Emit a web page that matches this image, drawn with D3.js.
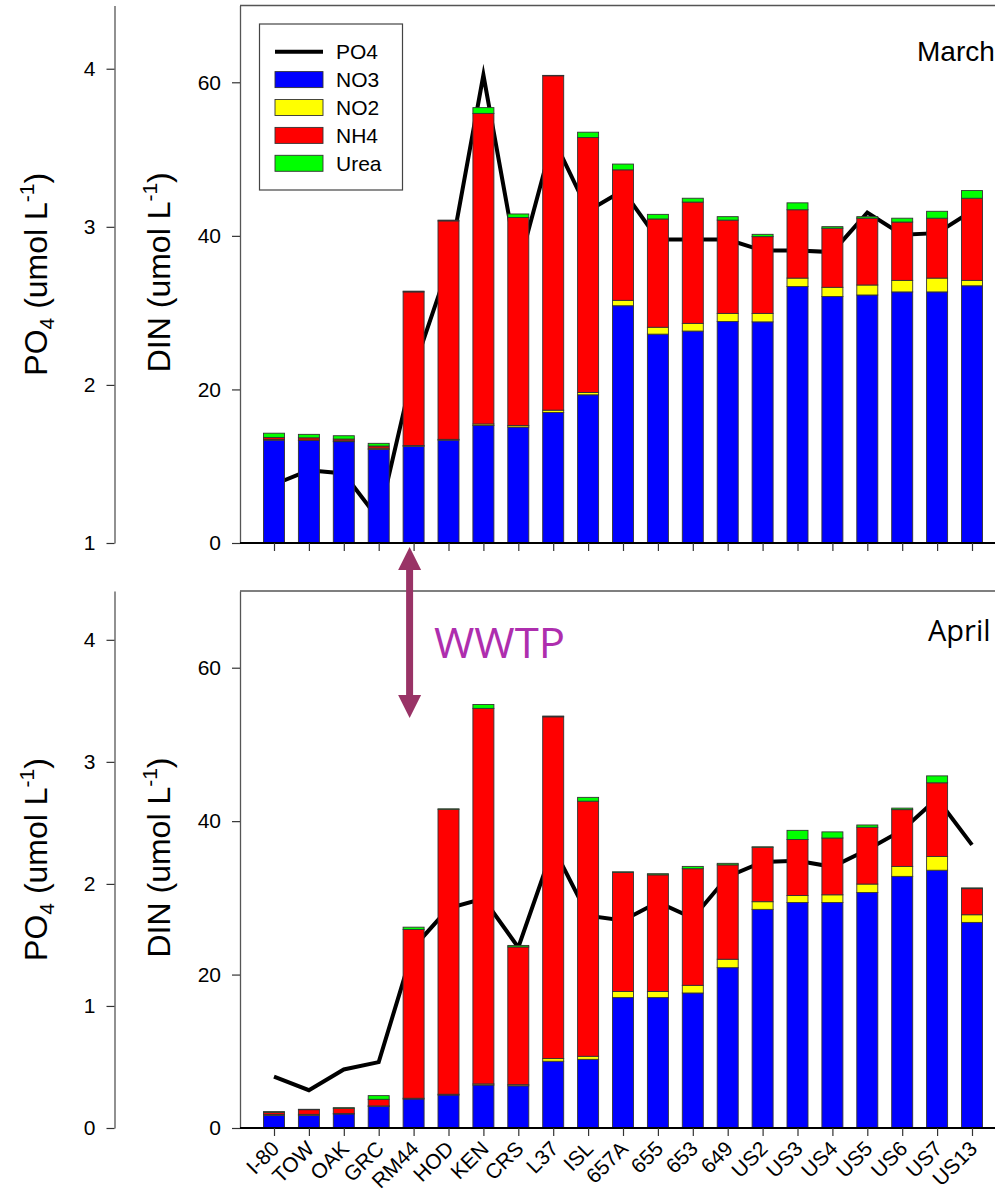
<!DOCTYPE html>
<html>
<head>
<meta charset="utf-8">
<script src="https://cdn.jsdelivr.net/npm/d3@7"></script>
<style>
  html, body { margin: 0; padding: 0; background: #fff; }
  svg { display: block; font-family: "Liberation Sans", Arial, sans-serif; }
</style>
</head>
<body>
<svg id="chart" width="995" height="1191"></svg>
<script>
// ---------------- DATA ----------------
const categories = ["I-80","TOW","OAK","GRC","RM44","HOD","KEN","CRS","L37","ISL","657A","655","653","649","US2","US3","US4","US5","US6","US7","US13"];

// March (umol L-1)
const marchNO3  = [13.4, 13.35, 13.2, 12.2, 12.6, 13.4, 15.3, 15.1, 17.0, 19.3, 30.9, 27.2, 27.6, 28.85, 28.8, 33.4, 32.1, 32.3, 32.7, 32.7, 33.5];
const marchNO2  = [0.1, 0.05, 0.1, 0.15, 0.1, 0.1, 0.2, 0.2, 0.3, 0.3, 0.7, 0.9, 1.0, 1.05, 1.1, 1.1, 1.2, 1.3, 1.5, 1.8, 0.7];
const marchNH4  = [0.25, 0.3, 0.24, 0.28, 20.0, 28.45, 40.45, 27.1, 43.55, 33.2, 17.0, 14.1, 15.8, 12.15, 10.0, 8.9, 7.7, 8.7, 7.6, 7.8, 10.7];
const marchUrea = [0.55, 0.45, 0.43, 0.35, 0.1, 0.1, 0.75, 0.45, 0.05, 0.7, 0.75, 0.6, 0.5, 0.45, 0.3, 0.9, 0.2, 0.2, 0.5, 0.9, 1.0];
const marchPO4  = [1.37, 1.46, 1.44, 1.15, 2.1, 2.75, 3.96, 2.74, 3.56, 3.1, 3.23, 2.92, 2.92, 2.92, 2.85, 2.85, 2.84, 3.09, 2.95, 2.96, 3.1];

// April (umol L-1)
const aprilNO3  = [1.65, 1.65, 1.83, 2.83, 3.78, 4.3, 5.6, 5.5, 8.7, 8.95, 17.0, 17.0, 17.6, 20.9, 28.5, 29.4, 29.4, 30.7, 32.8, 33.6, 26.8];
const aprilNO2  = [0.13, 0.13, 0.07, 0.05, 0.1, 0.1, 0.15, 0.15, 0.35, 0.4, 0.8, 0.8, 1.0, 1.1, 1.0, 0.9, 1.0, 1.1, 1.3, 1.8, 1.0];
const aprilNH4  = [0.26, 0.61, 0.67, 0.86, 22.0, 37.15, 48.95, 17.95, 44.55, 33.25, 15.5, 15.2, 15.2, 12.3, 7.1, 7.3, 7.4, 7.4, 7.4, 9.6, 3.4];
const aprilUrea = [0.1, 0.05, 0.08, 0.48, 0.3, 0.05, 0.5, 0.2, 0.1, 0.5, 0.1, 0.15, 0.3, 0.2, 0.05, 1.2, 0.8, 0.3, 0.2, 0.9, 0.1];
const aprilPO4  = [0.42, 0.31, 0.48, 0.54, 1.48, 1.8, 1.88, 1.48, 2.3, 1.74, 1.7, 1.85, 1.72, 2.06, 2.18, 2.19, 2.14, 2.28, 2.44, 2.7, 2.32];

const dinTicks = [0, 20, 40, 60];
const po4TicksMarch = [1, 2, 3, 4];
const po4TicksApril = [0, 1, 2, 3, 4];
const seriesKeys = ["NO3", "NO2", "NH4", "Urea"];
const legendLabels = ["PO4", "NO3", "NO2", "NH4", "Urea"];
const monthLabels = ["March", "April"];

// ---------------- STYLE ----------------
const colors = { NO3: "#0000FF", NO2: "#FFFF00", NH4: "#FF0000", Urea: "#00FF00" };
const svg = d3.select("#chart");
const font = '"Liberation Sans", Arial, sans-serif';

const x = d3.scalePoint().domain(categories).range([274, 972]);
const barW = 21;
const frameL = 240, frameR = 1010, po4AxisX = 114.5;

const panels = [
  { month: monthLabels[0], top: 5.5, bottom: 543, po4Domain: [1, 4.4], po4Ticks: po4TicksMarch,
    NO3: marchNO3, NO2: marchNO2, NH4: marchNH4, Urea: marchUrea, PO4: marchPO4, legend: true, xlabels: false },
  { month: monthLabels[1], top: 591, bottom: 1128, po4Domain: [0, 4.4], po4Ticks: po4TicksApril,
    NO3: aprilNO3, NO2: aprilNO2, NH4: aprilNH4, Urea: aprilUrea, PO4: aprilPO4, legend: false, xlabels: true }
];

function axisTitle(g, cx, cy, main, sub) {
  const t = g.append("text")
    .attr("transform", `translate(${cx},${cy}) rotate(-90)`)
    .attr("text-anchor", "middle")
    .attr("font-family", font)
    .attr("font-size", 32)
    .attr("fill", "#000");
  t.append("tspan").text(main);
  if (sub) t.append("tspan").attr("font-size", 21).attr("dy", 7).text(sub);
  t.append("tspan").attr("dy", sub ? -7 : 0).text(" (umol L");
  t.append("tspan").attr("font-size", 21).attr("dy", -13).text("-1");
  t.append("tspan").attr("dy", 13).text(")");
}

panels.forEach(p => {
  const g = svg.append("g");
  const yDIN = d3.scaleLinear().domain([0, 70]).range([p.bottom, p.top]);
  const yPO4 = d3.scaleLinear().domain(p.po4Domain).range([p.bottom, p.top]);

  const rows = categories.map((c, i) => ({ cat: c, NO3: p.NO3[i], NO2: p.NO2[i], NH4: p.NH4[i], Urea: p.Urea[i], PO4: p.PO4[i] }));

  // frame (top and right)
  g.append("path")
    .attr("d", `M${frameL},${p.top}H${frameR}V${p.bottom}`)
    .attr("fill", "none").attr("stroke", "#555").attr("stroke-width", 1.3);

  // PO4 line (drawn behind bars)
  const line = d3.line().x(d => x(d.cat)).y(d => yPO4(d.PO4));
  g.append("path").datum(rows)
    .attr("d", line)
    .attr("fill", "none").attr("stroke", "#000").attr("stroke-width", 4)
    .attr("stroke-linejoin", "miter").attr("stroke-miterlimit", 10);

  // stacked bars
  const stacked = d3.stack().keys(seriesKeys)(rows);
  stacked.forEach(layer => {
    g.append("g").selectAll("rect").data(layer).join("rect")
      .attr("x", d => x(d.data.cat) - barW / 2)
      .attr("width", barW)
      .attr("y", d => yDIN(d[1]))
      .attr("height", d => Math.max(0, yDIN(d[0]) - yDIN(d[1])))
      .attr("fill", colors[layer.key])
      .attr("stroke", "#333").attr("stroke-width", 0.9);
  });

  // DIN axis (frame left)
  const dinAxis = g.append("g").attr("transform", `translate(${frameL},0)`)
    .call(d3.axisLeft(yDIN).tickValues(dinTicks).tickSize(8).tickSizeOuter(0).tickPadding(11));
  dinAxis.select(".domain").attr("stroke", "#555").attr("stroke-width", 1.3);
  dinAxis.selectAll(".tick line").attr("stroke", "#333").attr("stroke-width", 1.2);
  dinAxis.selectAll("text").attr("font-family", font).attr("font-size", 21).attr("fill", "#000");

  // PO4 axis
  const po4Axis = g.append("g").attr("transform", `translate(${po4AxisX},0)`)
    .call(d3.axisLeft(yPO4).tickValues(p.po4Ticks).tickFormat(d3.format("d")).tickSize(8).tickSizeOuter(0).tickPadding(11));
  po4Axis.select(".domain").attr("stroke", "#555").attr("stroke-width", 1.3);
  po4Axis.selectAll(".tick line").attr("stroke", "#333").attr("stroke-width", 1.2);
  po4Axis.selectAll("text").attr("font-family", font).attr("font-size", 21).attr("fill", "#000");

  // x axis
  g.append("line").attr("x1", frameL).attr("x2", frameR).attr("y1", p.bottom).attr("y2", p.bottom)
    .attr("stroke", "#000").attr("stroke-width", 2);
  const xAxis = g.append("g").attr("transform", `translate(0,${p.bottom})`)
    .call(d3.axisBottom(x).tickSize(8).tickSizeOuter(0).tickPadding(4));
  xAxis.select(".domain").remove();
  xAxis.selectAll(".tick line").attr("stroke", "#333").attr("stroke-width", 1.2);
  if (p.xlabels) {
    xAxis.selectAll("text")
      .attr("font-family", font).attr("font-size", 21).attr("fill", "#000")
      .attr("text-anchor", "end")
      .attr("dy", null)
      .attr("transform", "translate(6,22) rotate(-45)")
      .attr("y", 0).attr("x", 0);
  } else {
    xAxis.selectAll("text").remove();
  }

  // axis titles
  axisTitle(g, 47, (p.top + p.bottom) / 2, "PO", "4");
  axisTitle(g, 170, (p.top + p.bottom) / 2 - 2, "DIN", null);

  // month label
  if (p.month === "March") {
    g.append("text").attr("x", 917).attr("y", p.top + 55)
      .attr("font-family", font).attr("font-size", 28).text(p.month);
  } else {
    g.append("text").attr("x", 928).attr("y", p.top + 50)
      .attr("font-family", '"Open Sans", "Noto Sans", sans-serif').attr("font-size", 29).text(p.month);
  }

  // legend
  if (p.legend) {
    const lg = g.append("g");
    lg.append("rect").attr("x", 259.5).attr("y", 24).attr("width", 143).attr("height", 166)
      .attr("fill", "#fff").attr("stroke", "#444").attr("stroke-width", 1.2);
    legendLabels.forEach((lab, i) => {
      const cy = 51.7 + i * 27.9;
      if (i === 0) {
        lg.append("line").attr("x1", 275).attr("x2", 323).attr("y1", cy).attr("y2", cy)
          .attr("stroke", "#000").attr("stroke-width", 4);
      } else {
        lg.append("rect").attr("x", 275).attr("y", cy - 8).attr("width", 48).attr("height", 16)
          .attr("fill", colors[seriesKeys[i - 1]]).attr("stroke", "#333").attr("stroke-width", 0.9);
      }
      lg.append("text").attr("x", 336).attr("y", cy + 7.5)
        .attr("font-family", font).attr("font-size", 21).text(lab);
    });
  }
});

// WWTP annotation: double-headed arrow between the panels
const arrowX = x("RM44") - 4;
const arrowTop = 547, arrowBot = 718;
const ann = svg.append("g");
ann.append("line").attr("x1", arrowX).attr("x2", arrowX).attr("y1", arrowTop + 18).attr("y2", arrowBot - 18)
  .attr("stroke", "#993366").attr("stroke-width", 7);
ann.append("path")
  .attr("d", `M${arrowX},${arrowTop}L${arrowX - 11.5},${arrowTop + 23}L${arrowX + 11.5},${arrowTop + 23}Z`)
  .attr("fill", "#993366");
ann.append("path")
  .attr("d", `M${arrowX},${arrowBot}L${arrowX - 11.5},${arrowBot - 23}L${arrowX + 11.5},${arrowBot - 23}Z`)
  .attr("fill", "#993366");
ann.append("text").attr("x", 434).attr("y", 658)
  .attr("font-family", '"Open Sans", "Noto Sans", sans-serif').attr("font-size", 42)
  .attr("textLength", 131).attr("lengthAdjust", "spacingAndGlyphs")
  .attr("fill", "#AE2EAE").text("WWTP");
</script>
</body>
</html>
